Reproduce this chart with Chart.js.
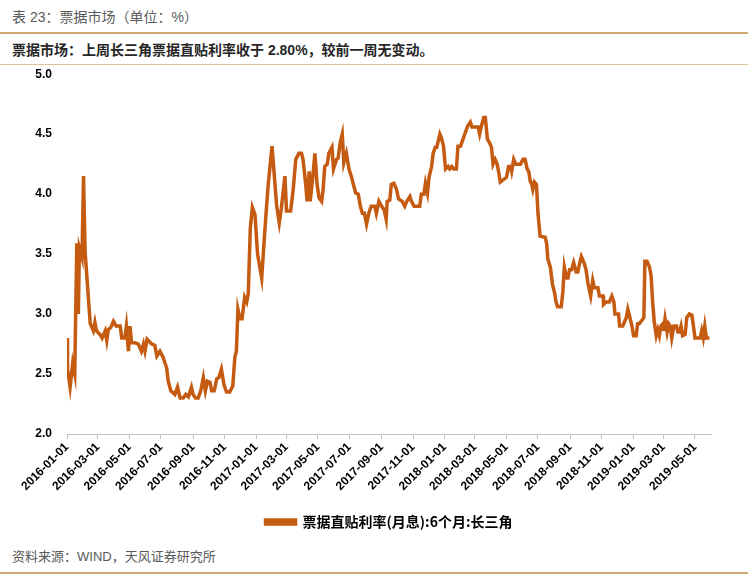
<!DOCTYPE html>
<html>
<head>
<meta charset="utf-8">
<script src="https://cdn.jsdelivr.net/npm/chart.js@4.4.1/dist/chart.umd.min.js"></script>
<style>
  body { margin: 0; width: 748px; height: 577px; background: #fff; position: relative; overflow: hidden;
         font-family: "Liberation Sans", "Noto Sans CJK SC", sans-serif; }
  .txt { position: absolute; left: 12px; white-space: nowrap; }
  #title { top: 8px; font-size: 14px; line-height: 18px; color: #595959; }
  #subtitle { top: 41px; font-size: 14px; line-height: 18px; font-weight: bold; color: #262626; }
  #source { top: 548px; font-size: 13px; line-height: 18px; color: #595959; }
  .rule { position: absolute; left: 0; width: 748px; }
  #rule1 { top: 32px; height: 2px; background: #cfa86e; }
  #rule2 { top: 64px; height: 1px; background: #dcc39c; }
  #rule3 { top: 572px; height: 2px; background: #cfa86e; }
  #wrap { position: absolute; left: 0; top: 52px; width: 748px; height: 487px; }
</style>
</head>
<body>
<div id="title" class="txt">表 23：票据市场（单位：%）</div>
<div id="rule1" class="rule"></div>
<div id="subtitle" class="txt">票据市场：上周长三角票据直贴利率收于 2.80%，较前一周无变动。</div>
<div id="rule2" class="rule"></div>
<div id="wrap"><canvas id="chart" width="748" height="487"></canvas></div>
<div id="source" class="txt">资料来源：WIND，天风证券研究所</div>
<div id="rule3" class="rule"></div>
<script>
// Tick labels on the date axis
const tickLabels = [
  "2016-01-01", "2016-03-01", "2016-05-01", "2016-07-01", "2016-09-01", "2016-11-01",
  "2017-01-01", "2017-03-01", "2017-05-01", "2017-07-01", "2017-09-01", "2017-11-01",
  "2018-01-01", "2018-03-01", "2018-05-01", "2018-07-01", "2018-09-01", "2018-11-01",
  "2019-01-01", "2019-03-01", "2019-05-01"
]
const axisStart = "2016-01-01"
const axisEnd = "2019-06-01"

const seriesName = "票据直贴利率(月息):6个月:长三角"

const dates = [
  "2016-01-01", "2016-01-02", "2016-01-07", "2016-01-12", "2016-01-16", "2016-01-20", "2016-01-23", "2016-01-25",
  "2016-01-30", "2016-02-02", "2016-02-05", "2016-02-11", "2016-02-15", "2016-02-21", "2016-02-24", "2016-02-27",
  "2016-03-05", "2016-03-09", "2016-03-15", "2016-03-18", "2016-03-21", "2016-03-26", "2016-03-31", "2016-04-05",
  "2016-04-13", "2016-04-16", "2016-04-22", "2016-04-25", "2016-04-29", "2016-05-02", "2016-05-05", "2016-05-12",
  "2016-05-18", "2016-05-24", "2016-05-28", "2016-05-31", "2016-06-04", "2016-06-13", "2016-06-19", "2016-06-23",
  "2016-06-29", "2016-07-05", "2016-07-12", "2016-07-15", "2016-07-20", "2016-07-28", "2016-08-02", "2016-08-07",
  "2016-08-13", "2016-08-18", "2016-08-23", "2016-08-29", "2016-09-01", "2016-09-06", "2016-09-11", "2016-09-16",
  "2016-09-21", "2016-09-25", "2016-09-29", "2016-10-04", "2016-10-07", "2016-10-12", "2016-10-17", "2016-10-21",
  "2016-10-26", "2016-10-31", "2016-11-05", "2016-11-11", "2016-11-17", "2016-11-21", "2016-11-24", "2016-11-27",
  "2016-12-01", "2016-12-05", "2016-12-10", "2016-12-14", "2016-12-17", "2016-12-21", "2016-12-25", "2016-12-30",
  "2017-01-04", "2017-01-12", "2017-01-18", "2017-01-24", "2017-02-01", "2017-02-10", "2017-02-15", "2017-02-19",
  "2017-02-26", "2017-03-01", "2017-03-09", "2017-03-14", "2017-03-19", "2017-03-25", "2017-03-30", "2017-04-02",
  "2017-04-07", "2017-04-10", "2017-04-14", "2017-04-16", "2017-04-21", "2017-04-25", "2017-04-29", "2017-05-03",
  "2017-05-08", "2017-05-11", "2017-05-14", "2017-05-19", "2017-05-22", "2017-05-28", "2017-05-31", "2017-06-06",
  "2017-06-09", "2017-06-13", "2017-06-17", "2017-06-20", "2017-06-25", "2017-06-30", "2017-07-05", "2017-07-08",
  "2017-07-13", "2017-07-18", "2017-07-22", "2017-07-26", "2017-07-30", "2017-08-03", "2017-08-08", "2017-08-12",
  "2017-08-19", "2017-08-22", "2017-08-27", "2017-09-01", "2017-09-06", "2017-09-10", "2017-09-12", "2017-09-17",
  "2017-09-20", "2017-09-25", "2017-09-30", "2017-10-04", "2017-10-11", "2017-10-16", "2017-10-20", "2017-10-26",
  "2017-10-29", "2017-11-03", "2017-11-14", "2017-11-17", "2017-11-22", "2017-11-25", "2017-11-29", "2017-12-02",
  "2017-12-07", "2017-12-10", "2017-12-14", "2017-12-17", "2017-12-23", "2017-12-26", "2017-12-30", "2018-01-03",
  "2018-01-08", "2018-01-11", "2018-01-15", "2018-01-19", "2018-01-24", "2018-01-27", "2018-02-01", "2018-02-06",
  "2018-02-10", "2018-02-15", "2018-02-20", "2018-02-23", "2018-03-07", "2018-03-10", "2018-03-13", "2018-03-18",
  "2018-03-21", "2018-03-25", "2018-03-29", "2018-04-02", "2018-04-05", "2018-04-09", "2018-04-13", "2018-04-16",
  "2018-04-19", "2018-05-01", "2018-05-05", "2018-05-09", "2018-05-11", "2018-05-15", "2018-05-19", "2018-05-28",
  "2018-06-02", "2018-06-06", "2018-06-10", "2018-06-13", "2018-06-16", "2018-06-19", "2018-06-21", "2018-06-24",
  "2018-06-28", "2018-07-01", "2018-07-05", "2018-07-15", "2018-07-18", "2018-07-20", "2018-07-25", "2018-07-29",
  "2018-08-02", "2018-08-05", "2018-08-08", "2018-08-15", "2018-08-18", "2018-08-21", "2018-08-25", "2018-08-28",
  "2018-08-31", "2018-09-04", "2018-09-08", "2018-09-13", "2018-09-16", "2018-09-19", "2018-09-23", "2018-09-28",
  "2018-10-02", "2018-10-06", "2018-10-11", "2018-10-15", "2018-10-18", "2018-10-25", "2018-10-28", "2018-11-04",
  "2018-11-05", "2018-11-10", "2018-11-16", "2018-11-21", "2018-11-25", "2018-11-27", "2018-12-04", "2018-12-06",
  "2018-12-12", "2018-12-19", "2018-12-22", "2018-12-25", "2018-12-30", "2019-01-02", "2019-01-07", "2019-01-10",
  "2019-01-13", "2019-01-17", "2019-01-22", "2019-01-24", "2019-01-28", "2019-02-02", "2019-02-05", "2019-02-08",
  "2019-02-11", "2019-02-15", "2019-02-18", "2019-02-21", "2019-02-24", "2019-02-28", "2019-03-01", "2019-03-04",
  "2019-03-08", "2019-03-11", "2019-03-14", "2019-03-17", "2019-03-21", "2019-03-26", "2019-03-29", "2019-04-01",
  "2019-04-04", "2019-04-07", "2019-04-12", "2019-04-15", "2019-04-20", "2019-04-25", "2019-04-28", "2019-05-01",
  "2019-05-11", "2019-05-14", "2019-05-17", "2019-05-20", "2019-05-23", "2019-05-29"
]

// 6-month discount rate, Yangtze River Delta (%)
const rates = [
  2.80, 2.54, 2.39, 2.59, 2.50, 3.59, 3.00, 3.55,
  3.47, 4.15, 3.52, 3.16, 2.92, 2.86, 2.93, 2.86,
  2.83, 2.80, 2.86, 2.78, 2.87, 2.89, 2.94, 2.90,
  2.90, 2.80, 2.80, 2.90, 2.69, 2.90, 2.76, 2.76,
  2.75, 2.69, 2.75, 2.69, 2.79, 2.75, 2.74, 2.65,
  2.69, 2.64, 2.55, 2.44, 2.36, 2.33, 2.39, 2.30,
  2.30, 2.33, 2.31, 2.39, 2.33, 2.30, 2.30, 2.36,
  2.47, 2.36, 2.44, 2.43, 2.36, 2.36, 2.46, 2.47,
  2.54, 2.41, 2.35, 2.35, 2.40, 2.64, 2.69, 3.04,
  2.96, 2.96, 3.14, 3.10, 3.17, 3.72, 3.89, 3.83,
  3.50, 3.30, 3.69, 4.05, 4.40, 3.90, 3.76, 3.88,
  4.15, 3.86, 3.86, 4.04, 4.29, 4.34, 4.34, 4.29,
  4.09, 3.94, 4.19, 3.94, 4.15, 4.34, 4.09, 3.97,
  3.94, 4.04, 4.23, 4.25, 4.34, 4.39, 4.21, 4.29,
  4.30, 4.43, 4.50, 4.26, 4.34, 4.21, 4.14, 4.09,
  4.01, 4.00, 3.90, 3.84, 3.84, 3.75, 3.85, 3.90,
  3.90, 3.84, 3.94, 3.90, 3.87, 3.79, 3.94, 3.95,
  4.08, 4.09, 4.04, 3.96, 3.94, 3.90, 3.94, 3.98,
  3.94, 3.90, 3.90, 4.00, 4.00, 4.09, 4.01, 4.14,
  4.23, 4.34, 4.39, 4.39, 4.50, 4.47, 4.40, 4.21,
  4.23, 4.21, 4.23, 4.21, 4.21, 4.40, 4.40, 4.46,
  4.51, 4.57, 4.60, 4.56, 4.56, 4.50, 4.56, 4.64,
  4.64, 4.46, 4.43, 4.39, 4.25, 4.29, 4.25, 4.18,
  4.10, 4.14, 4.23, 4.23, 4.19, 4.29, 4.25, 4.25,
  4.29, 4.29, 4.21, 4.19, 4.11, 4.08, 4.04, 4.10,
  4.08, 3.84, 3.65, 3.64, 3.58, 3.46, 3.39, 3.25,
  3.18, 3.10, 3.06, 3.06, 3.18, 3.39, 3.30, 3.30,
  3.37, 3.37, 3.43, 3.35, 3.35, 3.41, 3.48, 3.43,
  3.37, 3.25, 3.15, 3.28, 3.22, 3.22, 3.15, 3.15,
  3.08, 3.10, 3.10, 3.15, 3.10, 3.00, 3.00, 2.90,
  2.90, 2.97, 3.04, 2.99, 2.90, 2.82, 2.82, 2.92,
  2.92, 2.94, 2.97, 3.44, 3.44, 3.39, 3.32, 3.10,
  2.94, 2.82, 2.87, 2.82, 2.90, 2.92, 2.86, 2.96,
  2.85, 2.92, 2.90, 2.80, 2.90, 2.90, 2.85, 2.85,
  2.90, 2.82, 2.83, 2.97, 3.00, 2.99, 2.90, 2.80,
  2.80, 2.86, 2.80, 2.90, 2.80, 2.80
]

const lineColor = "#c55a11"

// Days since axis start, so the x axis keeps real calendar spacing
function dayNumber(str) {
  const [y, m, d] = str.split("-").map(Number)
  const [y0, m0, d0] = axisStart.split("-").map(Number)
  return Math.round((Date.UTC(y, m - 1, d) - Date.UTC(y0, m0 - 1, d0)) / 86400000)
}

const points = dates.map((d, i) => ({ x: dayNumber(d), y: rates[i] }))
const tickDays = tickLabels.map(dayNumber)
const labelByDay = {}
tickLabels.forEach((t) => { labelByDay[dayNumber(t)] = t })

const ctx = document.getElementById("chart").getContext("2d")

new Chart(ctx, {
  type: "line",
  data: {
    datasets: [
      {
        label: seriesName,
        data: points,
        borderColor: lineColor,
        backgroundColor: lineColor,
        borderWidth: 3.5,
        pointRadius: 0,
        tension: 0,
        fill: false,
      },
    ],
  },
  options: {
    responsive: false,
    animation: false,
    layout: {
      padding: { top: 0, right: 37, left: 0, bottom: 0 },
    },
    scales: {
      x: {
        type: "linear",
        min: dayNumber(axisStart),
        max: dayNumber(axisEnd),
        afterBuildTicks: (scale) => {
          scale.ticks = tickDays.map((v) => ({ value: v }))
        },
        afterFit: (scale) => {
          scale.height = 71
        },
        border: { display: true, color: "#bfbfbf", width: 1 },
        grid: { drawOnChartArea: false, drawTicks: true, tickLength: 5, color: "#bfbfbf" },
        ticks: {
          autoSkip: false,
          minRotation: 45,
          maxRotation: 45,
          padding: 1,
          color: "#000",
          font: { family: "Liberation Sans", size: 12, weight: "bold" },
          callback: (v) => labelByDay[v] || "",
        },
      },
      y: {
        min: 2,
        max: 5,
        afterFit: (scale) => {
          scale.width = 67
        },
        border: { display: false },
        grid: { display: false, drawTicks: false },
        ticks: {
          stepSize: 0.5,
          padding: 15,
          color: "#000",
          font: { family: "Liberation Sans", size: 12, weight: "bold" },
          callback: (v) => Number(v).toFixed(1),
        },
      },
    },
    plugins: {
      legend: {
        position: "bottom",
        fullSize: false,
        labels: {
          boxWidth: 30,
          boxHeight: 4,
          padding: 10,
          color: "#000",
          font: { family: "Noto Sans CJK SC", size: 14, weight: "bold" },
        },
      },
      tooltip: { enabled: false },
    },
  },
})
</script>
</body>
</html>
